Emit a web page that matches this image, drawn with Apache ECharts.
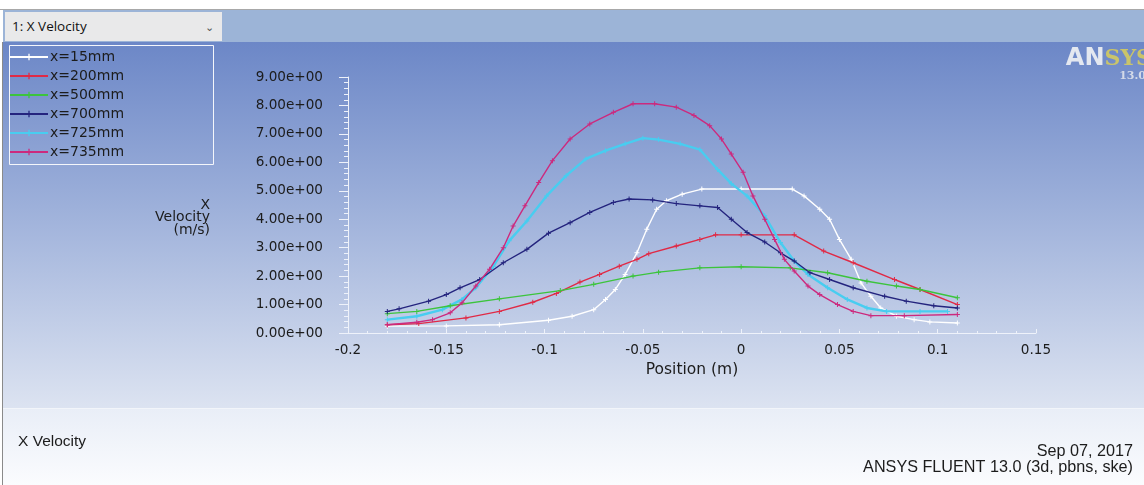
<!DOCTYPE html>
<html>
<head>
<meta charset="utf-8">
<script src="https://cdn.jsdelivr.net/npm/echarts@6/dist/echarts.min.js"></script>
<style>
  body { margin: 0; background: #fff; font-family: "Liberation Sans", Arial, sans-serif; }
  #wrap { position: relative; width: 1144px; height: 485px; overflow: hidden; }
  .topline { position: absolute; left: 0; top: 9px; width: 1144px; height: 1px; background: #a8a8a8; }
  .strip { position: absolute; left: 3px; top: 10px; width: 1141px; height: 32px; background: #9cb4d7; }
  .dropdown { position: absolute; left: 5px; top: 12px; width: 217px; height: 29px; background: #e9e9ea;
    font: 13.5px "Open Sans", "Liberation Sans", sans-serif; color: #111; line-height: 29px; text-indent: 7px; }
  .dropdown .chev { position: absolute; right: 8px; top: 0; color: #555; font-size: 11px; }
  .plot { position: absolute; left: 3px; top: 42px; width: 1141px; height: 366px;
    background: linear-gradient(#6c87c7, #9db0da 45%, #dce3f1); }
  .bottom { position: absolute; left: 3px; top: 408px; width: 1141px; height: 77px;
    border-top: 1px solid #f2f5fa; background: linear-gradient(#e9eef7, #fbfcfe); }
  .leftline { position: absolute; left: 2px; top: 42px; width: 1px; height: 443px; background: #8a8a8a; }
  #chart { position: absolute; left: 0; top: 0; width: 1144px; height: 485px; }
</style>
</head>
<body>
<div id="wrap">
  <div class="topline"></div>
  <div class="strip"></div>
  <div class="dropdown">1: X Velocity<span class="chev">&#8964;</span></div>
  <div class="plot"></div>
  <div class="bottom"></div>
  <div class="leftline"></div>
  <div id="chart"></div>
</div>
<script>
const seriesNames = ["x=15mm", "x=200mm", "x=500mm", "x=700mm", "x=725mm", "x=735mm"];
const seriesColors = ["#ffffff", "#e02a46", "#3cc43c", "#24247e", "#48cdf0", "#cc2a7e"];
const xTicks = [-0.2, -0.15, -0.1, -0.05, 0, 0.05, 0.1, 0.15];

// [position (m), x velocity (m/s)]
const x15 = [[-0.18,0.24],[-0.15,0.25],[-0.123,0.29],[-0.098,0.45],[-0.086,0.59],[-0.075,0.82],
  [-0.069,1.18],[-0.064,1.53],[-0.059,2.06],[-0.053,2.82],[-0.048,3.65],[-0.043,4.35],[-0.038,4.65],
  [-0.03,4.88],[-0.02,5.06],[0,5.06],[0.026,5.06],[0.032,4.82],[0.04,4.35],[0.045,4.0],[0.05,3.29],
  [0.056,2.59],[0.061,1.76],[0.066,1.29],[0.071,0.88],[0.079,0.59],[0.088,0.47],[0.096,0.39],[0.11,0.35]];
const x200 = [[-0.18,0.29],[-0.164,0.33],[-0.14,0.53],[-0.123,0.76],[-0.106,1.08],[-0.094,1.39],
  [-0.082,1.79],[-0.072,2.06],[-0.062,2.35],[-0.053,2.59],[-0.047,2.79],[-0.033,3.06],[-0.021,3.29],
  [-0.013,3.45],[0,3.45],[0.027,3.45],[0.042,2.88],[0.057,2.47],[0.078,1.88],[0.091,1.53],[0.11,1.0]];
const x500 = [[-0.18,0.68],[-0.165,0.76],[-0.148,0.96],[-0.123,1.2],[-0.092,1.49],[-0.075,1.71],
  [-0.055,2.0],[-0.042,2.14],[-0.021,2.29],[0,2.33],[0.025,2.29],[0.044,2.12],[0.064,1.82],
  [0.079,1.65],[0.091,1.53],[0.11,1.24]];
const x700 = [[-0.18,0.76],[-0.174,0.85],[-0.159,1.12],[-0.15,1.35],[-0.143,1.59],[-0.133,1.88],
  [-0.121,2.47],[-0.109,2.94],[-0.098,3.51],[-0.087,3.88],[-0.077,4.24],[-0.065,4.59],[-0.057,4.71],
  [-0.045,4.68],[-0.033,4.55],[-0.021,4.47],[-0.012,4.41],[-0.005,4.0],[0.003,3.53],[0.012,3.2],
  [0.02,2.82],[0.027,2.53],[0.035,2.12],[0.045,1.88],[0.057,1.59],[0.073,1.29],[0.084,1.12],
  [0.098,0.96],[0.11,0.88]];
const x725 = [[-0.18,0.47],[-0.165,0.59],[-0.152,0.82],[-0.142,1.18],[-0.135,1.59],[-0.126,2.35],
  [-0.118,3.24],[-0.109,3.94],[-0.099,4.82],[-0.089,5.53],[-0.079,6.12],[-0.069,6.41],[-0.059,6.65],
  [-0.05,6.85],[-0.042,6.8],[-0.031,6.65],[-0.021,6.45],[-0.012,5.75],[-0.005,5.25],[0.003,4.82],
  [0.012,4.12],[0.02,3.18],[0.027,2.53],[0.034,2.06],[0.044,1.59],[0.054,1.18],[0.064,0.88],
  [0.074,0.76],[0.091,0.76],[0.105,0.76]];
const x735 = [[-0.18,0.29],[-0.165,0.38],[-0.157,0.47],[-0.148,0.71],[-0.142,1.06],[-0.135,1.65],
  [-0.128,2.24],[-0.121,3.0],[-0.116,3.76],[-0.11,4.47],[-0.103,5.29],[-0.096,6.06],[-0.087,6.82],
  [-0.077,7.35],[-0.065,7.76],[-0.055,8.06],[-0.044,8.06],[-0.033,7.94],[-0.024,7.65],[-0.016,7.29],
  [-0.01,6.82],[-0.005,6.29],[0.001,5.65],[0.006,4.82],[0.012,4.0],[0.017,3.29],[0.022,2.59],
  [0.027,2.18],[0.034,1.65],[0.04,1.35],[0.049,1.0],[0.057,0.76],[0.066,0.61],[0.083,0.61],[0.11,0.65]];
const seriesData = [x15, x200, x500, x700, x725, x735];

const plus = "path://M4,0H6V4H10V6H6V10H4V6H0V4H4Z";
const font = "DejaVu Sans";
const ink = "#1c1c1c";
const axisColor = "#eef2fa";

const myChart = echarts.init(document.getElementById("chart"));

const option = {
  animation: false,
  backgroundColor: "transparent",
  grid: { left: 348, right: 108, top: 77, bottom: 152 },
  legend: {
    orient: "vertical",
    left: 9,
    top: 50,
    padding: 0,
    itemWidth: 38,
    itemHeight: 8,
    itemGap: 5,
    textStyle: { fontFamily: font, fontSize: 14, color: ink, padding: [0, 0, 0, -3] },
    data: seriesNames,
  },
  xAxis: {
    type: "value",
    min: -0.2,
    max: 0.15,
    interval: 0.05,
    name: "Position (m)",
    nameLocation: "middle",
    nameGap: 28,
    nameTextStyle: { fontFamily: font, fontSize: 15.5, color: ink },
    axisLine: { show: true, onZero: false, lineStyle: { color: axisColor, width: 1 } },
    axisTick: { show: true, inside: true, length: 4, lineStyle: { color: axisColor } },
    minorTick: { show: true, splitNumber: 5, length: 2, lineStyle: { color: axisColor } },
    splitLine: { show: false },
    axisLabel: {
      margin: 10,
      fontFamily: font,
      fontSize: 13.6,
      color: ink,
      formatter: (v) => {
        const t = xTicks.find((k) => Math.abs(k - v) < 1e-9);
        return String(t === undefined ? v : t);
      },
    },
  },
  yAxis: {
    type: "value",
    min: 0,
    max: 9,
    interval: 1,
    axisLine: { show: true, onZero: false, lineStyle: { color: axisColor, width: 1 } },
    axisTick: { show: true, inside: false, length: 9, lineStyle: { color: axisColor } },
    minorTick: { show: true, splitNumber: 5, length: 4, lineStyle: { color: axisColor } },
    splitLine: { show: false },
    axisLabel: {
      margin: 25,
      fontFamily: font,
      fontSize: 13.6,
      color: ink,
      formatter: (v) => v.toFixed(2) + "e+00",
    },
  },
  graphic: [
    {
      type: "rect",
      left: 7, top: 43,
      shape: { width: 204, height: 119 },
      style: { fill: "none", stroke: "#f4f6fb", lineWidth: 1 },
      z: 10,
    },
    { type: "text", right: 934, top: 198, style: { text: "X", fontFamily: font, fontSize: 14, fill: ink } },
    { type: "text", right: 934, top: 210, style: { text: "Velocity", fontFamily: font, fontSize: 14, fill: ink } },
    { type: "text", right: 934, top: 223, style: { text: "(m/s)", fontFamily: font, fontSize: 14, fill: ink } },
    {
      type: "text",
      right: -8, top: 47,
      style: {
        text: "{a|AN}{b|SYS}",
        rich: {
          a: { fontFamily: "DejaVu Sans", fontWeight: "bold", fontSize: 24, fill: "#e4e8f0" },
          b: { fontFamily: "DejaVu Serif", fontWeight: "bold", fontSize: 22, fill: "#c9c46a" },
        },
      },
    },
    {
      type: "text",
      right: -2, top: 71,
      style: { text: "13.0", fontFamily: "DejaVu Serif", fontWeight: "bold", fontSize: 11, fill: "#d4dae8" },
    },
    {
      type: "text",
      left: 18, top: 434,
      style: { text: "X Velocity", fontFamily: "Liberation Sans", fontSize: 15.5, fill: ink },
    },
    {
      type: "text",
      right: 11, top: 444,
      style: { text: "Sep 07, 2017", fontFamily: "Liberation Sans", fontSize: 16.2, fill: ink },
    },
    {
      type: "text",
      right: 11, top: 460,
      style: { text: "ANSYS FLUENT 13.0 (3d, pbns, ske)", fontFamily: "Liberation Sans", fontSize: 16.2, fill: ink },
    },
  ],
  series: seriesNames.map((name, i) => ({
    name: name,
    type: "line",
    data: seriesData[i],
    symbol: plus,
    symbolSize: 5,
    showSymbol: true,
    color: seriesColors[i],
    lineStyle: { width: i === 4 ? 2.4 : 1.4, color: seriesColors[i] },
    itemStyle: { color: seriesColors[i] },
    z: [1, 2, 3, 4, 2, 5][i],
  })),
};

myChart.setOption(option);
</script>
</body>
</html>
